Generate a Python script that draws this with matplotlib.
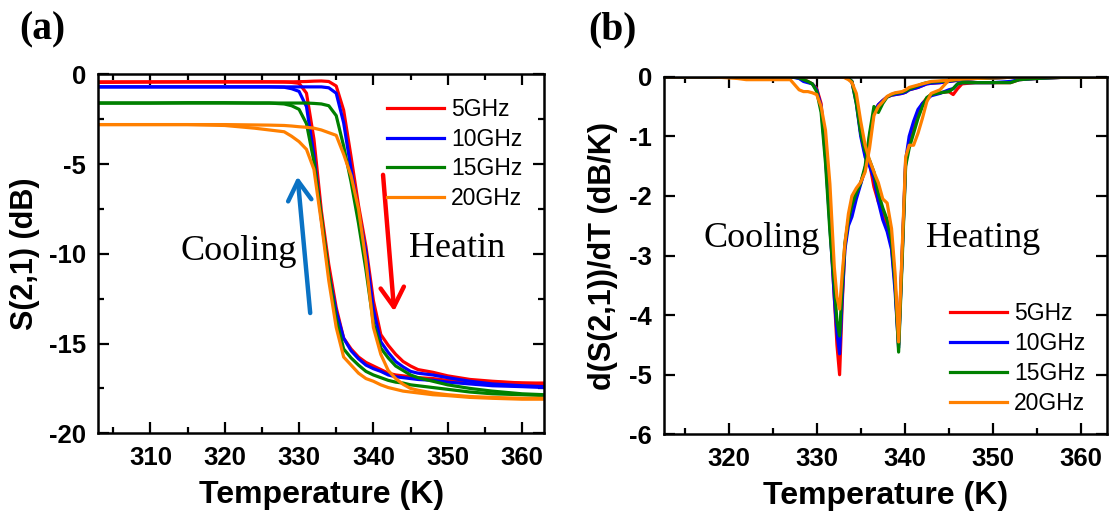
import matplotlib
matplotlib.use('Agg')
import matplotlib.pyplot as plt
from matplotlib.ticker import MultipleLocator

plt.rcParams['axes.unicode_minus'] = False
plt.rcParams['font.family'] = ['Liberation Sans', 'DejaVu Sans']
plt.rcParams['font.weight'] = 'bold'

labels = ['5GHz', '10GHz', '15GHz', '20GHz']
colors = ['#ff0000', '#0000ff', '#008000', '#ff8000']

# ---------------- panel (a): S(2,1) vs temperature ----------------
T_a = [303, 310, 315, 320, 324, 326, 328, 329, 330, 331, 332, 333, 334, 335, 336,
       337, 338, 339, 340, 341, 342, 343, 344, 345, 346, 348, 350, 353, 356, 360, 363]

heat_5 = [-0.45, -0.43, -0.42, -0.42, -0.42, -0.42, -0.42, -0.42, -0.41, -0.40, -0.38,
          -0.37, -0.40, -0.65, -2.0, -4.6, -7.3, -9.6, -12.6, -14.5, -15.1, -15.6, -16.0,
          -16.25, -16.45, -16.6, -16.8, -17.0, -17.1, -17.2, -17.2]
cool_5 = [-0.42, -0.42, -0.42, -0.42, -0.42, -0.42, -0.43, -0.45, -0.5, -1.05, -3.6,
          -7.6, -10.6, -13.0, -14.7, -15.3, -15.75, -16.05, -16.25, -16.45, -16.65, -16.75,
          -16.8, -16.85, -16.9, -16.95, -17.05, -17.1, -17.15, -17.2, -17.25]
heat_10 = [-0.7, -0.7, -0.7, -0.7, -0.7, -0.7, -0.7, -0.7, -0.7, -0.7, -0.7, -0.7,
           -0.75, -1.05, -2.7, -5.3, -7.7, -9.9, -13.1, -14.9, -15.5, -16.0, -16.3, -16.55,
           -16.65, -16.75, -16.9, -17.1, -17.25, -17.35, -17.4]
cool_10 = [-0.7, -0.7, -0.7, -0.7, -0.7, -0.7, -0.72, -0.8, -0.95, -1.8, -4.5, -8.1,
           -11.1, -13.2, -14.7, -15.4, -15.85, -16.2, -16.4, -16.55, -16.75, -16.85, -16.9,
           -16.95, -17.0, -17.05, -17.15, -17.25, -17.35, -17.4, -17.45]
heat_15 = [-1.6, -1.6, -1.58, -1.58, -1.6, -1.6, -1.6, -1.6, -1.6, -1.6, -1.62, -1.65,
           -1.75, -2.3, -4.0, -6.0, -8.3, -10.9, -13.85, -15.25, -15.8, -16.25, -16.5,
           -16.75, -16.9, -17.1, -17.3, -17.5, -17.65, -17.8, -17.85]
cool_15 = [-1.6, -1.6, -1.6, -1.6, -1.6, -1.6, -1.65, -1.75, -1.95, -2.75, -4.85, -7.95,
           -11.1, -13.65, -15.3, -15.8, -16.2, -16.55, -16.75, -16.9, -17.05, -17.15, -17.2,
           -17.3, -17.35, -17.45, -17.55, -17.7, -17.8, -17.85, -17.9]
heat_20 = [-2.8, -2.8, -2.8, -2.8, -2.82, -2.83, -2.85, -2.88, -2.92, -2.95, -3.0, -3.1,
           -3.25, -3.4, -4.45, -5.65, -7.5, -10.4, -14.1, -15.6, -16.5, -16.95, -17.27,
           -17.5, -17.6, -17.75, -17.85, -17.95, -18.0, -18.05, -18.05]
cool_20 = [-2.8, -2.8, -2.8, -2.85, -3.0, -3.1, -3.2, -3.45, -3.75, -4.18, -5.29, -8.25,
           -11.5, -14.1, -15.75, -16.2, -16.65, -16.95, -17.1, -17.3, -17.45, -17.55, -17.65,
           -17.7, -17.75, -17.85, -17.9, -18.0, -18.05, -18.1, -18.1]

# ---------------- panel (b): derivative ----------------
T_b = [313, 318, 321, 322, 325, 327,
       328, 328.5, 329, 329.5, 330, 330.5, 331, 331.5, 332,
       332.3, 332.6, 332.9, 333.2, 333.6, 334,
       334.5, 335, 335.5, 336, 336.5, 337, 337.5, 338, 338.5,
       338.9, 339.3, 339.7, 340.1, 340.5, 341, 341.5, 342, 342.5, 343,
       344, 345, 345.5, 346, 346.5, 348, 350, 352, 353, 355, 358, 363]

dcool_5 = [0, 0, 0, 0, 0, 0,
           -0.02, -0.05, -0.08, -0.12, -0.2, -0.45, -1.3, -2.4, -3.7,
           -4.5, -5.0, -3.8, -2.85, -2.4, -2.15,
           -1.95, -1.78, -1.55, -1.0, -0.6, -0.47, -0.4, -0.34, -0.31,
           -0.3, -0.29, -0.28, -0.26, -0.22, -0.2, -0.18, -0.15, -0.12, -0.11,
           -0.1, -0.08, -0.07, -0.06, -0.05, -0.03, -0.02, -0.01, 0, 0, 0, 0]
dcool_10 = [0, 0, 0, 0, 0, 0,
            -0.03, -0.08, -0.1, -0.12, -0.22, -0.5, -1.35, -2.5, -3.7,
            -4.3, -4.65, -3.7, -2.9, -2.5, -2.35,
            -2.05, -1.8, -1.55, -1.05, -0.6, -0.47, -0.4, -0.34, -0.31,
            -0.3, -0.29, -0.28, -0.26, -0.22, -0.2, -0.18, -0.15, -0.12, -0.11,
            -0.1, -0.08, -0.07, -0.06, -0.05, -0.03, -0.02, -0.01, 0, 0, 0, 0]
dcool_15 = [0, 0, 0, 0, 0, 0,
            -0.02, -0.05, -0.08, -0.12, -0.25, -0.6, -1.45, -2.6, -3.5,
            -4.1, -4.35, -3.5, -2.8, -2.4, -2.15,
            -1.95, -1.78, -1.5, -0.95, -0.5, -0.6, -0.45, -0.34, -0.3,
            -0.28, -0.27, -0.26, -0.24, -0.21, -0.18, -0.15, -0.12, -0.1, -0.09,
            -0.08, -0.07, -0.06, -0.05, -0.04, -0.03, -0.02, -0.01, 0, 0, 0, 0]
dcool_20 = [0, 0, -0.03, -0.05, -0.05, -0.05,
            -0.22, -0.25, -0.25, -0.27, -0.3, -0.5, -0.9, -1.8, -3.2,
            -3.7, -3.9, -3.3, -2.8, -2.3, -2.0,
            -1.87, -1.77, -1.6, -1.2, -0.65, -0.5, -0.42, -0.33, -0.29,
            -0.27, -0.26, -0.25, -0.22, -0.18, -0.16, -0.14, -0.12, -0.1, -0.08,
            -0.07, -0.06, -0.05, -0.04, -0.03, -0.02, -0.01, 0, 0, 0, 0, 0]

dheat_5 = [0, 0, 0, 0, 0, 0,
           0, 0, 0, 0, 0, 0, 0, 0, 0,
           0, 0, 0, -0.01, -0.03, -0.08,
           -0.4, -0.95, -1.3, -1.45, -1.85, -2.1, -2.25, -2.5, -2.85,
           -3.5, -4.5, -3.0, -1.45, -1.08, -0.8, -0.6, -0.45, -0.36, -0.3,
           -0.27, -0.25, -0.3, -0.2, -0.12, -0.1, -0.1, -0.1, -0.05, -0.03, -0.01, 0]
dheat_10 = [0, 0, 0, 0, 0, 0,
            0, 0, 0, 0, 0, 0, 0, 0, 0,
            0, 0, 0, -0.01, -0.03, -0.08,
            -0.45, -1.0, -1.35, -1.5, -1.7, -2.1, -2.4, -2.6, -2.9,
            -3.6, -4.55, -3.0, -1.4, -1.0, -0.75, -0.55, -0.45, -0.38, -0.32,
            -0.28, -0.22, -0.2, -0.12, -0.1, -0.1, -0.1, -0.08, -0.05, -0.03, -0.01, 0]
dheat_15 = [0, 0, 0, 0, 0, 0,
            0, 0, 0, 0, 0, 0, 0, 0, 0,
            0, 0, 0, -0.01, -0.03, -0.08,
            -0.45, -0.95, -1.25, -1.4, -1.6, -1.95, -2.2, -2.4, -2.75,
            -3.45, -4.62, -3.1, -1.5, -1.2, -0.95, -0.7, -0.5, -0.35, -0.3,
            -0.27, -0.25, -0.2, -0.12, -0.1, -0.1, -0.1, -0.1, -0.05, -0.03, -0.01, 0]
dheat_20 = [0, 0, 0, 0, 0, 0,
            0, 0, 0, 0, 0, 0, 0, 0, 0,
            0, 0, 0, -0.02, -0.05, -0.1,
            -0.28, -0.75, -1.15, -1.4, -1.6, -1.78, -2.05, -2.12, -2.55,
            -3.3, -4.45, -2.9, -1.35, -1.15, -1.15, -0.95, -0.7, -0.42, -0.28,
            -0.22, -0.06, -0.05, -0.05, -0.04, -0.03, -0.02, -0.01, 0, 0, 0, 0]

heat_a = [heat_5, heat_10, heat_15, heat_20]
cool_a = [cool_5, cool_10, cool_15, cool_20]
heat_b = [dheat_5, dheat_10, dheat_15, dheat_20]
cool_b = [dcool_5, dcool_10, dcool_15, dcool_20]

LW = 2.3
fig = plt.figure(figsize=(11.1, 5.14), dpi=100)
ax1 = fig.add_axes([0.0886, 0.157, 0.4018, 0.6984])
ax2 = fig.add_axes([0.5985, 0.155, 0.3991, 0.6958])

for c, lab, h, k in zip(colors, labels, heat_a, cool_a):
    ax1.plot(T_a, k, color=c, lw=LW)
    ax1.plot(T_a, h, color=c, lw=LW, label=lab)
for c, lab, h, k in zip(colors, labels, heat_b, cool_b):
    ax2.plot(T_b, k, color=c, lw=LW)
    ax2.plot(T_b, h, color=c, lw=LW, label=lab)

ax1.set_xlim(303, 363)
ax1.set_ylim(-20, 0)
ax1.xaxis.set_major_locator(MultipleLocator(10))
ax1.xaxis.set_minor_locator(MultipleLocator(5))
ax1.yaxis.set_major_locator(MultipleLocator(5))
ax1.yaxis.set_minor_locator(MultipleLocator(2.5))

ax2.set_xlim(312.7, 363)
ax2.set_ylim(-6, 0)
ax2.xaxis.set_major_locator(MultipleLocator(10))
ax2.xaxis.set_minor_locator(MultipleLocator(5))
ax2.yaxis.set_major_locator(MultipleLocator(1))

for ax in (ax1, ax2):
    for s in ax.spines.values():
        s.set_linewidth(1.8)
    ax.tick_params(which='both', direction='in', top=True, right=True, width=1.6)
    ax.tick_params(which='major', length=8, labelsize=18.5, pad=9)
    ax.tick_params(which='minor', length=4.3)
    ax.set_xlabel('Temperature (K)', fontsize=23, fontweight='bold', labelpad=7)

ax1.set_ylabel('S(2,1) (dB)', fontsize=22, fontweight='bold', labelpad=6)
ax2.set_ylabel('d(S(2,1))/dT (dB/K)', fontsize=22, fontweight='bold', labelpad=8)

leg_prop = {'family': 'Liberation Sans', 'weight': 'normal', 'size': 16.5}
leg_kw = dict(frameon=False, prop=leg_prop, handlelength=2.5, handletextpad=0.3,
              labelspacing=0.3, borderpad=0, borderaxespad=0, loc='upper left')
ax1.legend(bbox_to_anchor=(0.6466, 0.935), **leg_kw)
ax2.legend(bbox_to_anchor=(0.645, 0.37), **leg_kw)

serif = 'Liberation Serif'
ax1.text(314.0, -10.35, 'Cooling', family=serif, fontweight='normal', fontsize=26, va='baseline')
ax1.text(344.76, -10.18, 'Heatin', family=serif, fontweight='normal', fontsize=26, va='baseline')
ax2.text(317.18, -2.85, 'Cooling', family=serif, fontweight='normal', fontsize=26, va='baseline')
ax2.text(342.42, -2.85, 'Heating', family=serif, fontweight='normal', fontsize=26, va='baseline')

fig.text(19.6 / 1110, 1 - 39.5 / 514, '(a)', family=serif, fontweight='bold', fontsize=28.5, va='baseline')
fig.text(588 / 1110, 1 - 39.5 / 514, '(b)', family=serif, fontweight='bold', fontsize=28.5, va='baseline')

ax1.annotate('', xy=(329.8, -5.7), xytext=(331.5, -13.3),
             arrowprops=dict(arrowstyle='->,head_length=0.7,head_width=0.42', lw=3.2,
                             color='#0a72c4', shrinkA=0, shrinkB=0, mutation_scale=20))
ax1.annotate('', xy=(342.8, -13.2), xytext=(341.3, -5.6),
             arrowprops=dict(arrowstyle='->,head_length=0.7,head_width=0.42', lw=3.2,
                             color='#ff0000', shrinkA=0, shrinkB=0, mutation_scale=20))

fig.savefig('out.png', dpi=100)
